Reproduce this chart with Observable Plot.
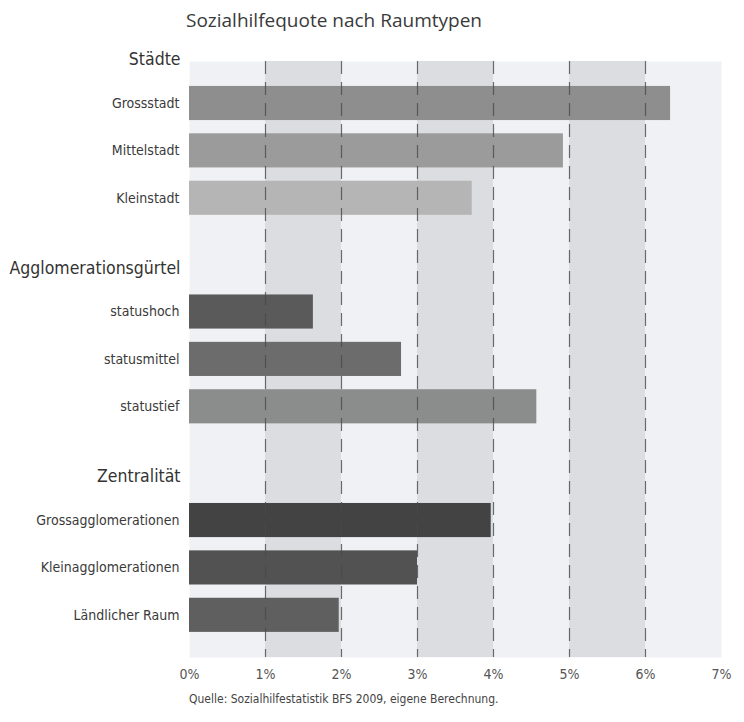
<!DOCTYPE html>
<html>
<head>
<meta charset="utf-8">
<script src="https://cdn.jsdelivr.net/npm/d3@7"></script>
<script src="https://cdn.jsdelivr.net/npm/@observablehq/plot@0.6"></script>
<style>
  html, body { margin: 0; padding: 0; background: #ffffff; }
  #wrap { width: 744px; height: 722px; position: relative; overflow: hidden; }
  #title { position: absolute; left: 186px; top: 7px; font-family: "Open Sans", sans-serif; font-size: 19px; color: #3a3a3a; white-space: nowrap; }
  #chart { position: absolute; left: 0; top: 40px; }
  #caption { position: absolute; left: 189px; top: 692px; font-family: "Liberation Sans Narrow", "DejaVu Sans Condensed", sans-serif; font-size: 12px; color: #444; white-space: nowrap; }
</style>
</head>
<body>
<div id="wrap">
  <div id="title">Sozialhilfequote nach Raumtypen</div>
  <div id="chart"></div>
  <div id="caption">Quelle: Sozialhilfestatistik BFS 2009, eigene Berechnung.</div>
</div>
<script>
// ---- data ----
const groups = ["Städte", "Agglomerationsgürtel", "Zentralität"];
const categories = ["Grossstadt", "Mittelstadt", "Kleinstadt",
                    "statushoch", "statusmittel", "statustief",
                    "Grossagglomerationen", "Kleinagglomerationen", "Ländlicher Raum"];
const categoryGroup = [0, 0, 0, 1, 1, 1, 2, 2, 2];
const values = [6.33, 4.92, 3.72, 1.63, 2.79, 4.57, 3.97, 3.0, 1.97];
const xTicks = [0, 1, 2, 3, 4, 5, 6, 7];
const shadedBands = [1, 3, 5];

// ---- styles ----
const barColors = ["#8e8e8e", "#9b9b9b", "#b5b5b5",
                   "#5a5a5a", "#6c6c6c", "#8b8c8c",
                   "#434343", "#525252", "#5f5f5f"];
const condensed = "'Liberation Sans Narrow', 'DejaVu Sans Condensed', sans-serif";

// ---- layout (row index units) ----
const groupStride = 4.4;
const headerOffset = 0.93;
const barHalf = 0.36;
const rowIndex = categories.map((c, k) => {
  const g = categoryGroup[k];
  const i = categoryGroup.slice(0, k).filter(v => v === g).length;
  return g * groupStride + i;
});
const rows = categories.map((c, k) => ({category: c, value: values[k], pos: rowIndex[k]}));
const headers = groups.map((g, k) => ({group: g, pos: k * groupStride - headerOffset}));

const chart = Plot.plot({
  width: 744,
  height: 650,
  marginLeft: 189,
  marginRight: 23,
  marginTop: 21,
  marginBottom: 33,
  x: {domain: [0, 7], ticks: xTicks, tickFormat: d => d + "%"},
  y: {domain: [-0.886, 11.69], reverse: true, axis: null},
  color: {domain: categories, range: barColors},
  style: {fontFamily: condensed, fontSize: "14px", color: "#444", background: "transparent"},
  marks: [
    Plot.frame({fill: "#f0f1f5", stroke: null}),
    Plot.rectX(shadedBands, {x1: d => d, x2: d => d + 1, fill: "#dcdde0"}),
    Plot.rectX(rows, {x1: 0, x2: "value", y1: d => d.pos - barHalf, y2: d => d.pos + barHalf, fill: "category"}),
    Plot.ruleX([1, 2, 3, 4, 5, 6], {stroke: "#4a4a4a", strokeWidth: 1.2, strokeDasharray: "13,8", strokeOpacity: 0.8}),
    Plot.axisX({ticks: xTicks, tickFormat: d => d + "%", tickSize: 0, tickPadding: 12, label: null, fontSize: 14, color: "#555"}),
    Plot.text(rows, {x: 0, y: "pos", text: "category", textAnchor: "end", dx: -10, fontSize: 14, fill: "#3a3a3a"}),
    Plot.text(headers, {x: 0, y: "pos", text: "group", textAnchor: "end", dx: -9, fontSize: 17.5, fill: "#333"})
  ]
});
document.getElementById("chart").appendChild(chart);
</script>
</body>
</html>
